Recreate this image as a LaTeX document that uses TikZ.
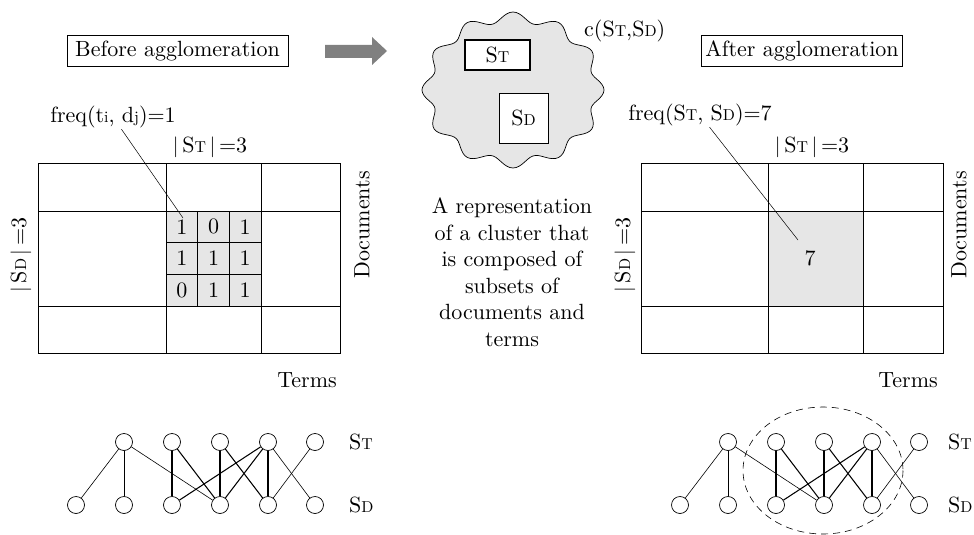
\documentclass[tikz,border=0pt]{standalone}
\usepackage{fontspec}
\setmainfont{lmroman10-regular.otf}
\newcommand{\smc}[1]{\scalebox{0.72}{#1}}
\definecolor{cellgray}{HTML}{E6E6E6}
\definecolor{cloudgray}{HTML}{E6E6E6}
\definecolor{arrowgray}{HTML}{808080}
\begin{document}
\begin{tikzpicture}[x=1pt,y=-1pt,
  font=\fontsize{22}{26.5}\selectfont,
  lbl/.style={inner sep=1pt},
  titlebox/.style={draw, line width=0.6pt, minimum height=31, inner xsep=4},
  vnode/.style={circle, draw, fill=white, minimum size=17, inner sep=0, line width=0.7pt},
  thinedge/.style={line width=0.6pt},
  thickedge/.style={line width=1.05pt},
  gridouter/.style={line width=1pt},
  gridline/.style={line width=0.7pt},
  cellnum/.style={inner sep=0}]
\useasboundingbox (0,0) rectangle (974,535);

% ---- titles and arrow
\node[titlebox, minimum width=221] (before) at (177.5,51) {Before agglomeration};
\node[titlebox, minimum width=180] (after) at (802,51) {After agglomeration};
\fill[arrowgray] (325,45) -- (372,45) -- (372,37) -- (387,51) -- (372,65) -- (372,58) -- (325,58) -- cycle;

% ---- cloud
\draw[fill=cloudgray, line width=0.7pt] plot[domain=0:358, samples=180, smooth cycle, variable=\t]
  ({513+(86+5*cos(12*\t))*cos(\t)}, {90+(73+5*cos(12*\t))*sin(\t)});
\node[draw, line width=1.5pt, fill=white, minimum width=65, minimum height=30] (cst) at (497.5,55) {S\smc{T}};
\node[draw, line width=0.7pt, fill=white, minimum width=49, minimum height=50] (csd) at (523.5,118) {S\smc{D}};
\node[lbl, anchor=west] (clabel) at (583,31) {c(S\smc{T},S\smc{D})};
\node[lbl, align=center] (desc) at (512,272) {A representation\\of a cluster that\\is composed of\\subsets of\\documents and\\terms};

% ---- left grid
\fill[cellgray] (166,211) rectangle (261,306);
\draw[gridouter] (38,163) rectangle (340,353);
\draw[gridline] (166,163) -- (166,353) (261,163) -- (261,353) (38,211) -- (340,211) (38,306) -- (340,306);
\draw[line width=1pt] (166,211) rectangle (261,306);
\draw[line width=1pt] (197.7,211) -- (197.7,306) (229.3,211) -- (229.3,306) (166,242.7) -- (261,242.7) (166,274.3) -- (261,274.3);
\node[cellnum] (c11) at (181.8,226.8) {1};
\node[cellnum] (c12) at (213.5,226.8) {0};
\node[cellnum] (c13) at (245.2,226.8) {1};
\node[cellnum] (c21) at (181.8,258.5) {1};
\node[cellnum] (c22) at (213.5,258.5) {1};
\node[cellnum] (c23) at (245.2,258.5) {1};
\node[cellnum] (c31) at (181.8,290.2) {0};
\node[cellnum] (c32) at (213.5,290.2) {1};
\node[cellnum] (c33) at (245.2,290.2) {1};
\node[lbl] (lst) at (210,147) {$|$\,S\smc{T}\,$|$\,=3};
\node[lbl, rotate=90] (lsd) at (21,255) {$|$\,S\smc{D}\,$|$\,=3};
\node[lbl, rotate=90] (ldoc) at (362,225) {Documents};
\node[lbl] (lterms) at (307,380) {Terms};
\node[lbl] (lfreq) at (113,117) {freq(t\smc{i}, d\smc{j})=1};
\coordinate (lfe) at (183,218);
\draw[line width=0.5pt] (lfreq) -- (lfe);

% ---- right grid
\fill[cellgray] (768,211) rectangle (863,306);
\draw[gridouter] (641,163) rectangle (943,353);
\draw[gridline] (768,163) -- (768,353) (863,163) -- (863,353) (641,211) -- (943,211) (641,306) -- (943,306);
\draw[line width=1pt] (768,211) rectangle (863,306);
\node[cellnum] (c7) at (810,258) {7};
\node[lbl] (rst) at (812,147) {$|$\,S\smc{T}\,$|$\,=3};
\node[lbl, rotate=90] (rsd) at (625,255) {$|$\,S\smc{D}\,$|$\,=3};
\node[lbl, rotate=90] (rdoc) at (959,225) {Documents};
\node[lbl] (rterms) at (908,380) {Terms};
\node[lbl] (rfreq) at (700,115) {freq(S\smc{T}, S\smc{D})=7};
\coordinate (rfe) at (798,240);
\draw[line width=0.5pt] (rfreq) -- (rfe);

% ---- bipartite graphs
\draw[dashed, dash pattern=on 7pt off 5pt, line width=0.6pt] (823,470.5) ellipse [x radius=80, y radius=63.5];
\foreach \p/\dx in {l/0,r/604}{
  \foreach \i/\xx in {1/124,2/172,3/220,4/268,5/315}
    \node[vnode] (\p t\i) at (\xx+\dx,442) {};
  \foreach \i/\xx in {1/76,2/124,3/172,4/220,5/268,6/315}
    \node[vnode] (\p b\i) at (\xx+\dx,505) {};
  \foreach \a/\b in {1/1,1/2,1/4,4/6,5/5}
    \draw[thinedge] (\p t\a) -- (\p b\b);
  \foreach \a/\b in {2/3,2/4,3/4,3/5,4/3,4/4,4/5}
    \draw[thickedge] (\p t\a) -- (\p b\b);
}
\node[lbl, anchor=west] (lgst) at (348,442) {S\smc{T}};
\node[lbl, anchor=west] (lgsd) at (348,505) {S\smc{D}};
\node[lbl, anchor=west] (rgst) at (947,442) {S\smc{T}};
\node[lbl, anchor=west] (rgsd) at (947,505) {S\smc{D}};
\end{tikzpicture}
\end{document}
